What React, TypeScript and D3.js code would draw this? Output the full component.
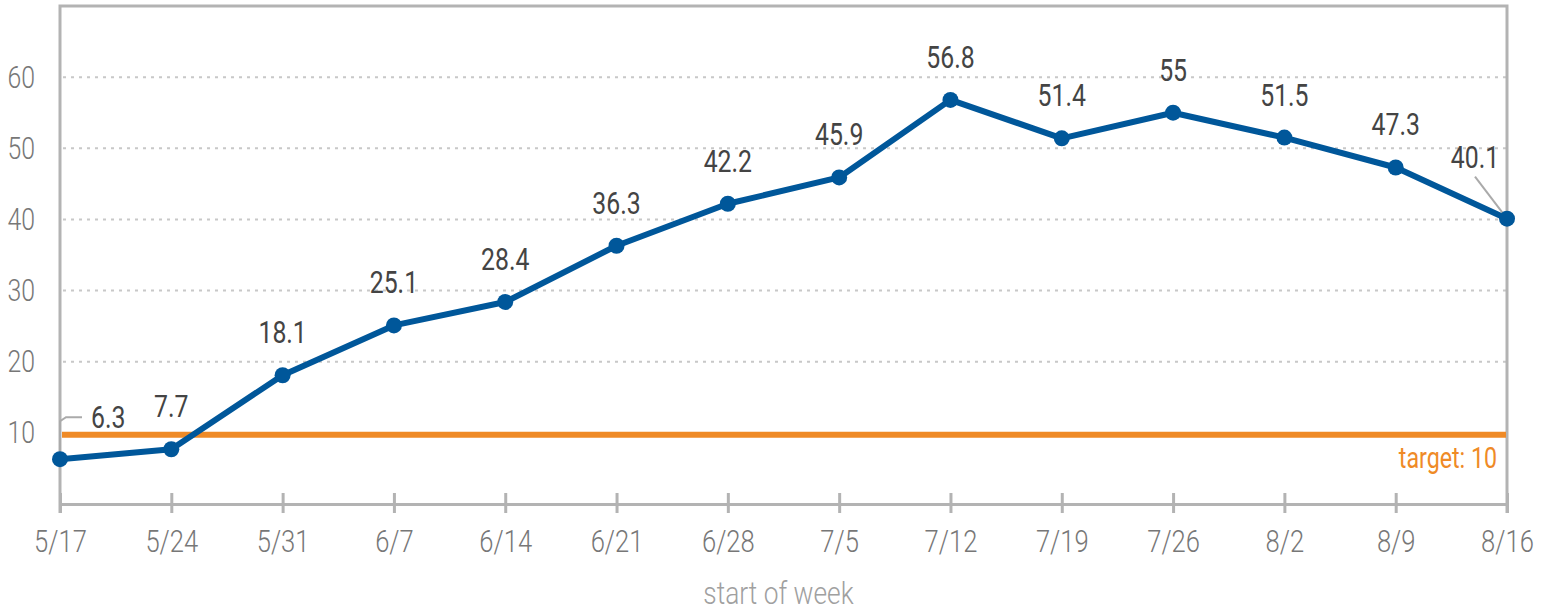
import * as d3 from "d3";
import { useEffect, useRef } from "react";

// ---- data ----
const weeks = ["5/17", "5/24", "5/31", "6/7", "6/14", "6/21", "6/28", "7/5", "7/12", "7/19", "7/26", "8/2", "8/9", "8/16"];
const values = [6.3, 7.7, 18.1, 25.1, 28.4, 36.3, 42.2, 45.9, 56.8, 51.4, 55, 51.5, 47.3, 40.1];
const yTicks = [10, 20, 30, 40, 50, 60];
const target = 10;

const FONT = "Roboto, 'Liberation Sans', sans-serif";
const SX = 0.8; // horizontal squeeze, no condensed face installed

export default function App() {
  const ref = useRef<SVGSVGElement | null>(null);

  useEffect(() => {
    const width = 1548;
    const height = 613;
    const left = 60, right = 1507, top = 6, bottom = 504;

    const svg = d3.select(ref.current);
    svg.selectAll("*").remove();
    svg.attr("viewBox", `0 0 ${width} ${height}`);

    const x = d3.scalePoint<string>().domain(weeks).range([left, right]);
    const y = d3.scaleLinear().domain([0, 70]).range([bottom, top]);

    // grid (dotted)
    svg.append("g")
      .selectAll("line")
      .data(yTicks.filter((t) => t !== target))
      .join("line")
      .attr("x1", left + 3)
      .attr("x2", right)
      .attr("y1", (d) => y(d))
      .attr("y2", (d) => y(d))
      .attr("stroke", "#c8c8c8")
      .attr("stroke-width", 2)
      .attr("stroke-dasharray", "3 5");

    // frame: left, top, right
    svg.append("path")
      .attr("d", `M${left},${bottom + 9} V${top} H${right} V${bottom + 9}`)
      .attr("fill", "none")
      .attr("stroke", "#b3b3b3")
      .attr("stroke-width", 3);

    // x axis
    const xAxis = svg.append("g").attr("transform", `translate(0,${bottom})`)
      .call(d3.axisBottom(x).tickSize(9).tickSizeOuter(0).tickPadding(16));
    xAxis.select(".domain").attr("stroke", "#b3b3b3").attr("stroke-width", 3);
    xAxis.selectAll(".tick line").attr("stroke", "#b3b3b3").attr("stroke-width", 3).attr("y1", -11);
    xAxis.selectAll(".tick text")
      .attr("fill", "#777")
      .attr("font-size", 32)
      .attr("font-weight", 300)
      .attr("font-family", FONT)
      .attr("transform", `scale(${SX},1)`);

    // y axis labels
    const yAxis = svg.append("g").attr("transform", `translate(${left},0)`)
      .call(d3.axisLeft(y).tickValues(yTicks).tickSize(0).tickPadding(25 / SX));
    yAxis.select(".domain").remove();
    yAxis.selectAll(".tick text")
      .attr("fill", "#777")
      .attr("font-size", 31)
      .attr("font-weight", 300)
      .attr("font-family", FONT)
      .attr("transform", `scale(${SX},1)`);

    // axis title
    svg.append("text")
      .attr("transform", `translate(${(left + right) / 2 - 5},604) scale(0.85,1)`)
      .attr("text-anchor", "middle")
      .attr("fill", "#a0a0a0")
      .attr("font-size", 31)
      .attr("font-weight", 300)
      .attr("font-family", FONT)
      .text("start of week");

    // target line
    svg.append("line")
      .attr("x1", left + 2)
      .attr("x2", right - 1)
      .attr("y1", y(target) + 2)
      .attr("y2", y(target) + 2)
      .attr("stroke", "#ef8a26")
      .attr("stroke-width", 6);
    svg.append("text")
      .attr("transform", `translate(${right - 10},${y(target) + 35}) scale(${SX},1)`)
      .attr("text-anchor", "end")
      .attr("fill", "#ef8a26")
      .attr("font-size", 29)
      .attr("font-family", FONT)
      .text(`target: ${target}`);

    // series line
    const line = d3.line<number>()
      .x((_, i) => x(weeks[i]) as number)
      .y((d) => y(d));
    svg.append("path")
      .datum(values)
      .attr("d", line)
      .attr("fill", "none")
      .attr("stroke", "#00579a")
      .attr("stroke-width", 6)
      .attr("stroke-linejoin", "round");

    // leader lines for first/last labels
    const x0 = x(weeks[0]) as number;
    const xl = x(weeks[weeks.length - 1]) as number;
    svg.append("path")
      .attr("d", `M${x0},${y(values[0])} V${y(values[0]) - 38} L${x0 + 6},${y(values[0]) - 42} H${x0 + 22}`)
      .attr("fill", "none")
      .attr("stroke", "#aaa")
      .attr("stroke-width", 2);
    svg.append("line")
      .attr("x1", xl - 32).attr("y1", y(values[values.length - 1]) - 42)
      .attr("x2", xl).attr("y2", y(values[values.length - 1]))
      .attr("stroke", "#aaa")
      .attr("stroke-width", 2);

    // points
    svg.append("g")
      .selectAll("circle")
      .data(values)
      .join("circle")
      .attr("cx", (_, i) => x(weeks[i]) as number)
      .attr("cy", (d) => y(d))
      .attr("r", 8)
      .attr("fill", "#00579a");

    // value labels
    svg.append("g")
      .selectAll("text")
      .data(values)
      .join("text")
      .attr("transform", (d, i) => {
        const cx = x(weeks[i]) as number;
        let tx = cx, ty = y(d) - 32;
        if (i === 0) { tx = cx + 31; ty = y(d) - 31; }
        if (i === values.length - 1) { tx = cx - 32; ty = y(d) - 51; }
        return `translate(${tx},${ty}) scale(${SX},1)`;
      })
      .attr("text-anchor", (_, i) => (i === 0 ? "start" : "middle"))
      .attr("fill", "#444")
      .attr("font-size", 31)
      .attr("font-family", FONT)
      .text((d) => String(d));
  }, []);

  return (
    <svg
      ref={ref}
      width={1548}
      height={613}
      style={{ position: "absolute", left: 0, top: 0, display: "block" }}
    />
  );
}
